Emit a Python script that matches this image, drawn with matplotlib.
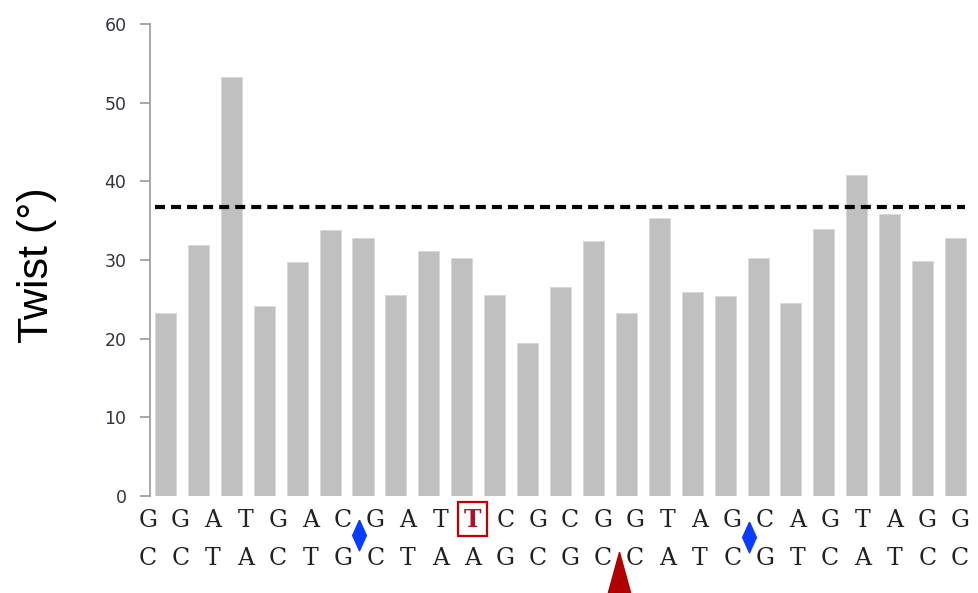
import numpy as np
import matplotlib
matplotlib.use("Agg")
import matplotlib.pyplot as plt
from matplotlib.patches import Rectangle

# base-pair step twist values (degrees)
twist = [23.3, 31.9, 53.3, 24.2, 29.8, 33.8, 32.8, 25.6, 31.2, 30.3,
         25.6, 19.4, 26.6, 32.4, 23.3, 35.4, 25.9, 25.4, 30.3, 24.5,
         34.0, 40.8, 35.9, 29.9, 32.8]
mean_twist = 36.7

top_strand = list("GGATGACGATTCGCGGTAGCAGTAGG")
bottom_strand = list("CCTACTGCTAAGCGCCATCGTCATCC")

highlight_base = 10          # boxed red T in the top strand
diamond_steps = [6.5, 18.5]  # blue markers (between bases)
triangle_steps = [14.5]      # red marker

fig = plt.figure(figsize=(9.79, 5.93), dpi=100)
ax = fig.add_axes([150 / 979, 97 / 593, 828.6 / 979, 472 / 593])

x = np.arange(len(twist)) + 0.5
ax.bar(x, twist, width=0.64, color="#c0c0c0", edgecolor="#d8d8d8", linewidth=0.6, zorder=2)
ax.hlines(mean_twist, 0.18, 24.79, colors="black", linewidth=3,
          linestyles=(0, (2.4, 1.45)), zorder=3)

ax.set_xlim(0.03, 25.2)
ax.set_ylim(0, 60)
ax.set_yticks(range(0, 61, 10))
ax.set_xticks([])
for s in ["top", "right", "bottom"]:
    ax.spines[s].set_visible(False)
ax.spines["left"].set_color("#9a9a9a")
ax.spines["left"].set_linewidth(1.2)
ax.tick_params(axis="y", length=7, width=1.2, color="#9a9a9a", pad=10,
               labelsize=12.5, labelcolor="#333344")
for lab in ax.get_yticklabels():
    lab.set_family("DejaVu Sans")

ax.set_ylabel("Twist (°)", fontsize=31, family="Liberation Sans")
ax.yaxis.set_label_coords(-0.112, 0.49)


# sequence letters are spaced a little tighter than the bars
def base_x(i):
    return -0.032 + 0.9866 * i


trans = ax.get_xaxis_transform()
seq_font = dict(fontsize=17, family="DejaVu Serif", fontweight="light")
for i, (t, b) in enumerate(zip(top_strand, bottom_strand)):
    if i == highlight_base:
        ax.text(base_x(i), -0.0657, t, transform=trans, ha="center", va="baseline",
                fontsize=17, family="DejaVu Serif", fontweight="bold",
                color="#b0102a", clip_on=False)
    else:
        ax.text(base_x(i), -0.0657, t, transform=trans, ha="center", va="baseline",
                color="#222222", clip_on=False, **seq_font)
    ax.text(base_x(i), -0.146, b, transform=trans, ha="center", va="baseline",
            color="#222222", clip_on=False, **seq_font)

box = Rectangle((base_x(highlight_base) - 0.44, -0.0847), 0.88, 0.072, transform=trans,
                fill=False, edgecolor="#c00000", linewidth=1.6, clip_on=False)
ax.add_patch(box)

diamond = [(0, 1), (0.45, 0), (0, -1), (-0.45, 0), (0, 1)]
ax.plot([base_x(d) for d in diamond_steps], [-0.0826, -0.0869], linestyle="none",
        marker=diamond, markersize=22, color="#0a3cff", transform=trans, clip_on=False)
triangle = [(0, 1), (0.55, -1), (-0.55, -1), (0, 1)]
ax.plot([base_x(d) for d in triangle_steps], [-0.162], linestyle="none", marker=triangle,
        markersize=29, color="#b00000", transform=trans, clip_on=False)

fig.savefig("out.png", dpi=100)
